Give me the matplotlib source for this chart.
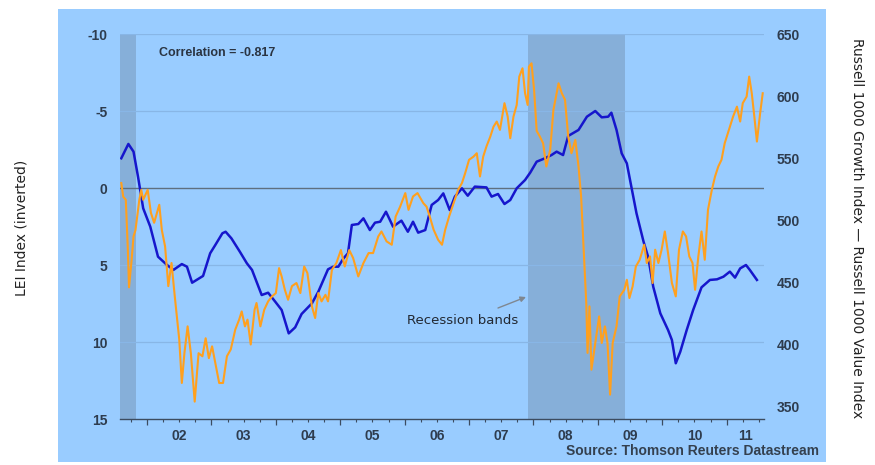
import matplotlib
matplotlib.use("Agg")
import matplotlib.pyplot as plt
from matplotlib.patches import Rectangle
from matplotlib.ticker import MultipleLocator, NullFormatter
import matplotlib.transforms as mtransforms

# ---------------- data ----------------
lei_dates = [2001.60, 2001.71, 2001.79, 2001.86, 2001.94, 2002.05, 2002.17, 2002.31, 2002.41,
             2002.54, 2002.62, 2002.70, 2002.87, 2002.98, 2003.06, 2003.17, 2003.22, 2003.31,
             2003.44, 2003.55, 2003.63, 2003.78, 2003.88, 2003.99, 2004.09, 2004.20, 2004.30,
             2004.40, 2004.56, 2004.66, 2004.81, 2004.89, 2004.97, 2005.05, 2005.12, 2005.18,
             2005.28, 2005.36, 2005.46, 2005.54, 2005.62, 2005.71, 2005.82, 2005.95, 2006.05,
             2006.13, 2006.21, 2006.32, 2006.42, 2006.52, 2006.60, 2006.70, 2006.78, 2006.89,
             2006.98, 2007.09, 2007.27, 2007.35, 2007.45, 2007.55, 2007.64, 2007.74, 2007.87,
             2007.95, 2008.05, 2008.18, 2008.28, 2008.36, 2008.46, 2008.54, 2008.70, 2008.83,
             2008.96, 2009.06, 2009.16, 2009.21, 2009.29, 2009.37, 2009.45, 2009.53, 2009.60,
             2009.71, 2009.78, 2009.86, 2009.97, 2010.09, 2010.15, 2010.21, 2010.28, 2010.38,
             2010.48, 2010.61, 2010.74, 2010.85, 2010.95, 2011.05, 2011.13, 2011.21, 2011.30,
             2011.36, 2011.47]
lei_values = [-1.93, -2.86, -2.36, -0.73, 1.32, 2.51, 4.46, 5.00, 5.32,
              4.94, 5.11, 6.15, 5.71, 4.24, 3.70, 2.94, 2.84, 3.27,
              4.13, 4.89, 5.32, 6.95, 6.80, 7.38, 7.92, 9.44, 9.05,
              8.18, 7.49, 6.73, 5.28, 5.11, 5.11, 4.57, 4.24, 2.40,
              2.34, 1.97, 2.73, 2.25, 2.19, 1.54, 2.51, 2.12, 2.84,
              2.19, 2.90, 2.73, 1.10, 0.78, 0.35, 1.43, 0.56, 0.02,
              0.50, -0.09, -0.04, 0.56, 0.39, 1.04, 0.78, 0.02, -0.52,
              -1.00, -1.71, -1.93, -2.14, -2.36, -2.14, -3.38, -3.77, -4.63,
              -5.00, -4.59, -4.63, -4.89, -3.77, -2.25, -1.60, 0.13, 1.64,
              3.49, 4.46, 6.41, 8.14, 9.22, 9.87, 11.38, 10.63, 9.22,
              7.92, 6.45, 5.97, 5.93, 5.76, 5.43, 5.82, 5.22, 5.00,
              5.32, 5.97]

ratio_dates = [2001.60, 2001.63, 2001.67, 2001.70, 2001.72, 2001.76, 2001.79, 2001.82, 2001.88,
               2001.91, 2001.94, 2002.01, 2002.06, 2002.11, 2002.19, 2002.23, 2002.28, 2002.33,
               2002.38, 2002.43, 2002.50, 2002.54, 2002.58, 2002.63, 2002.68, 2002.74, 2002.80,
               2002.86, 2002.91, 2002.96, 2003.01, 2003.06, 2003.12, 2003.18, 2003.24, 2003.30,
               2003.37, 2003.43, 2003.47, 2003.52, 2003.56, 2003.61, 2003.67, 2003.70, 2003.76,
               2003.82, 2003.88, 2003.94, 2004.00, 2004.05, 2004.09, 2004.14, 2004.19, 2004.25,
               2004.32, 2004.38, 2004.44, 2004.49, 2004.56, 2004.61, 2004.66, 2004.71, 2004.77,
               2004.81, 2004.87, 2004.94, 2005.01, 2005.07, 2005.14, 2005.20, 2005.28, 2005.36,
               2005.44, 2005.51, 2005.59, 2005.64, 2005.72, 2005.80, 2005.86, 2005.93, 2006.01,
               2006.06, 2006.13, 2006.20, 2006.29, 2006.34, 2006.39, 2006.45, 2006.52, 2006.58,
               2006.63, 2006.69, 2006.76, 2006.83, 2006.89, 2006.94, 2007.00, 2007.07, 2007.12,
               2007.17, 2007.22, 2007.27, 2007.33, 2007.38, 2007.43, 2007.48, 2007.55, 2007.60,
               2007.64, 2007.69, 2007.74, 2007.78, 2007.83, 2007.87, 2007.91, 2007.93, 2007.97,
               2008.01, 2008.05, 2008.10, 2008.15, 2008.20, 2008.26, 2008.31, 2008.39, 2008.44,
               2008.49, 2008.54, 2008.59, 2008.65, 2008.70, 2008.74, 2008.78, 2008.82, 2008.84,
               2008.87, 2008.90, 2008.96, 2009.02, 2009.06, 2009.11, 2009.15, 2009.19, 2009.23,
               2009.29, 2009.34, 2009.41, 2009.45, 2009.49, 2009.54, 2009.59, 2009.65, 2009.72,
               2009.76, 2009.81, 2009.85, 2009.89, 2009.94, 2009.99, 2010.04, 2010.09, 2010.15,
               2010.21, 2010.26, 2010.32, 2010.37, 2010.42, 2010.47, 2010.51, 2010.56, 2010.61,
               2010.66, 2010.71, 2010.77, 2010.82, 2010.87, 2010.92, 2010.97, 2011.05, 2011.10,
               2011.16, 2011.21, 2011.25, 2011.31, 2011.35, 2011.39, 2011.43, 2011.47, 2011.52,
               2011.56]
ratio_values = [530, 519, 516.5, 479, 446, 468, 487, 492, 516.5,
                524.5, 516.5, 524.5, 506, 498, 512.5, 492, 479, 447,
                465.6, 439, 404, 369, 393, 414.6, 393, 354, 393,
                390.5, 405, 389, 398.5, 385, 369, 369, 390.5, 396,
                412, 420, 426.6, 414.6, 420, 400, 428, 433.4, 414.6,
                428, 434.7, 438.7, 441.4, 461.5, 454.8, 444, 436, 447,
                449.5, 441.4, 462.8, 457.5, 430.7, 421.3, 441.4, 434.7, 440,
                434.7, 460, 465.6, 476, 462.8, 476, 469.6, 454.8, 465.6,
                473.6, 473.6, 487, 491, 483, 480.3, 503, 511, 521.9,
                508.4, 519.2, 521.9, 513.8, 511, 503, 492.4, 484.3, 480.3,
                492.4, 503, 513.8, 524.5, 530, 538, 548.7, 551.3, 554,
                535.3, 551.3, 559.4, 567.4, 575.4, 579.5, 572.8, 594.3, 583.5,
                566.1, 583.5, 592.9, 615.7, 622.4, 602.3, 592.9, 623.7, 626.4,
                605, 572, 567.4, 562, 543.3, 556.7, 588.9, 610.3, 602.3,
                597, 567.4, 554, 564.7, 543.3, 519.2, 476.3, 433.4, 393.2,
                430.7, 379.7, 401.2, 422.6, 401.2, 414.6, 401.2, 359.6, 401.2,
                414.6, 438.7, 444, 452.1, 437.4, 446.8, 462.8, 468.2, 480.3,
                465.6, 470.9, 449.5, 476.3, 465.6, 476.3, 491, 473.6, 449.5,
                438.7, 476.3, 491, 487, 470.9, 465.6, 444, 470.9, 491,
                468.2, 508.4, 524.5, 535.3, 543.3, 548.7, 562.1, 575.4, 583.5,
                591.5, 579.5, 594.3, 599.6, 615.7, 602.3, 583.5, 563.4, 586.2,
                602.3]

recession_starts = [2001.20, 2007.92]
recession_ends = [2001.83, 2009.42]

year_starts = [2002, 2003, 2004, 2005, 2006, 2007, 2008, 2009, 2010, 2011]
year_labels = ['02', '03', '04', '05', '06', '07', '08', '09', '10', '11']
left_ticks = [-10, -5, 0, 5, 10, 15]
left_ticklabels = ['-10', '-5', '0', '5', '10', '15']
right_ticks = [350, 400, 450, 500, 550, 600, 650]

correlation_text = "Correlation = -0.817"
source_text = "Source: Thomson Reuters Datastream"
left_label = "LEI Index (inverted)"
right_label = "Russell 1000 Growth Index \u2014 Russell 1000 Value Index"

# ---------------- styling ----------------
PANEL = '#99CCFF'
BAND = '#86AFD9'
GRID = '#88B6E6'
ZERO = '#5E6F80'
BLUE = '#1616CC'
ORANGE = '#FFA01E'
TXT = '#2A3442'
TICKTXT = '#2E3C4E'

W, H = 875, 465
fig = plt.figure(figsize=(W / 100, H / 100), dpi=100, facecolor='white')

# blue panel
fig.patches.append(Rectangle((58 / W, 1 - 462 / H), 768 / W, 453 / H,
                             transform=fig.transFigure, facecolor=PANEL,
                             edgecolor='none', zorder=-10))

ax = fig.add_axes([120 / W, 1 - 419 / H, 644 / W, 385 / H])
ax.set_facecolor('none')
xmin, xmax = 2001.58, 2011.58
ax.set_xlim(xmin, xmax)
ax.set_ylim(15, -10)

for s, e in zip(recession_starts, recession_ends):
    ax.axvspan(max(s, xmin), min(e, xmax), color=BAND, lw=0, zorder=0)

for t in left_ticks:
    if t == 0:
        ax.axhline(t, color=ZERO, lw=1.0, zorder=1)
    elif t != 15:
        ax.axhline(t, color=GRID, lw=0.9, zorder=1)

ax.plot(lei_dates, lei_values, color=BLUE, lw=1.8, zorder=3, solid_joinstyle='round')

for sp in ['top', 'left', 'right']:
    ax.spines[sp].set_visible(False)
ax.spines['bottom'].set_color('#3C4C60')
ax.spines['bottom'].set_linewidth(1.0)
ax.spines['bottom'].set_zorder(5)

ax.set_yticks(left_ticks)
ax.set_yticklabels(left_ticklabels)
ax.tick_params(axis='y', length=0, pad=9, labelsize=10, labelcolor=TICKTXT)
for lab in ax.get_yticklabels():
    lab.set_fontfamily('Liberation Sans')
    lab.set_fontweight('bold')

ax.set_xticks(year_starts)
ax.xaxis.set_major_formatter(NullFormatter())
ax.xaxis.set_minor_locator(MultipleLocator(0.25))
ax.tick_params(axis='x', which='major', direction='out', length=4, width=0.9, color='#3C4C60')
ax.tick_params(axis='x', which='minor', direction='out', length=2.5, width=0.8, color='#3C4C60')

trans = mtransforms.blended_transform_factory(ax.transData, ax.transAxes)
for y0, lab in zip(year_starts, year_labels):
    a = max(y0, xmin)
    b = min(y0 + 1, xmax)
    ax.text((a + b) / 2, -0.045, lab, transform=trans, ha='center', va='center',
            fontsize=10, fontweight='bold', color=TICKTXT, family='Liberation Sans')

ax2 = ax.twinx()
ax2.set_ylim(340, 650)
ax2.plot(ratio_dates, ratio_values, color=ORANGE, lw=1.5, zorder=4, solid_joinstyle='round')
for sp in ax2.spines.values():
    sp.set_visible(False)
ax2.set_yticks(right_ticks)
ax2.tick_params(axis='y', length=0, pad=9, labelsize=10, labelcolor=TICKTXT)
for lab in ax2.get_yticklabels():
    lab.set_fontfamily('Liberation Sans')
    lab.set_fontweight('bold')
ax2.set_zorder(ax.get_zorder() + 1)
ax2.patch.set_visible(False)

# annotations
fig.text(159 / W, 1 - 53 / H, correlation_text, ha='left', va='center', fontsize=9,
         color=TXT, family='Liberation Sans', fontweight='bold')
fig.text(407 / W, 1 - 320 / H, "Recession bands", ha='left', va='center', fontsize=9.5,
         color='#222831', family='DejaVu Sans')
ax.annotate('', xy=(526 / W, 1 - 297 / H), xytext=(498 / W, 1 - 308 / H),
            xycoords='figure fraction', textcoords='figure fraction',
            arrowprops=dict(arrowstyle='-|>', color='#7F8790', lw=1.0,
                            mutation_scale=8, shrinkA=0, shrinkB=0))
fig.text(819 / W, 1 - 451 / H, source_text, ha='right', va='center', fontsize=10,
         color='#34404E', family='Liberation Sans', fontweight='bold')

fig.text(22 / W, 1 - 228 / H, left_label, rotation=90, ha='center', va='center',
         fontsize=10, color='#222', family='DejaVu Sans')
fig.text(857 / W, 1 - 228 / H, right_label, rotation=-90, ha='center', va='center',
         fontsize=10, color='#222', family='DejaVu Sans')

fig.savefig('out.png', dpi=100, facecolor='white')
